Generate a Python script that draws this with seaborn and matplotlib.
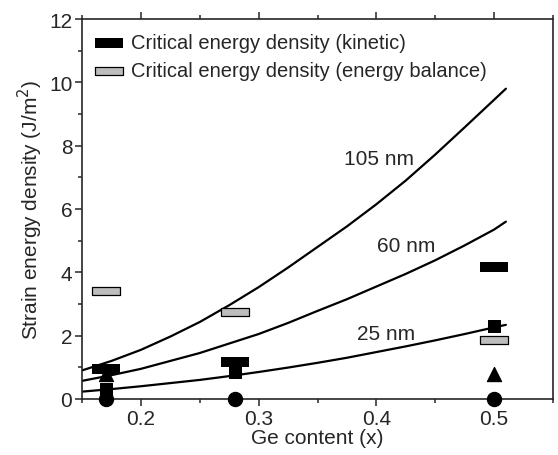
import numpy as np
import pandas as pd
import matplotlib
matplotlib.use("Agg")
import matplotlib.pyplot as plt
import seaborn as sns

# curves (strain energy density vs Ge content)
curve_x = [0.15, 0.175, 0.20, 0.225, 0.25, 0.275, 0.30, 0.325,
           0.35, 0.375, 0.40, 0.425, 0.45, 0.475, 0.50, 0.51]
curve_105 = [0.90, 1.20, 1.55, 1.97, 2.43, 2.96, 3.53, 4.15,
             4.80, 5.45, 6.15, 6.90, 7.72, 8.58, 9.45, 9.80]
curve_60 = [0.57, 0.75, 0.95, 1.20, 1.45, 1.75, 2.05, 2.40,
            2.78, 3.15, 3.55, 3.95, 4.38, 4.85, 5.35, 5.60]
curve_25 = [0.23, 0.31, 0.40, 0.50, 0.60, 0.72, 0.85, 0.99,
            1.14, 1.30, 1.48, 1.66, 1.85, 2.05, 2.26, 2.34]

# measured points
ge = [0.17, 0.28, 0.50]
kinetic = [0.95, 1.18, 4.17]
balance = [3.40, 2.75, 1.86]
squares = [0.30, 0.85, 2.30]
triangles = [0.79, None, 0.79]
circles = [0.0, 0.0, 0.0]

sns.set_style("ticks")
plt.rcParams["font.family"] = ["Liberation Sans", "DejaVu Sans"]
plt.rcParams["font.size"] = 15

fig = plt.figure(figsize=(5.58, 4.56), dpi=100)
ax = fig.add_axes([0.147, 0.123, 0.844, 0.833])

n = len(curve_x)
curves = pd.DataFrame({
    "x": curve_x * 3,
    "y": curve_105 + curve_60 + curve_25,
    "h": ["105 nm"] * n + ["60 nm"] * n + ["25 nm"] * n,
})
sns.lineplot(data=curves, x="x", y="y", units="h", estimator=None,
             color="black", lw=1.6, ax=ax, zorder=2)

bar_k = [(-1, -0.33), (1, -0.33), (1, 0.33), (-1, 0.33), (-1, -0.33)]
bar_b = [(-1, -0.27), (1, -0.27), (1, 0.27), (-1, 0.27), (-1, -0.27)]
pts = pd.DataFrame({"x": ge, "c": circles, "t": triangles, "s": squares,
                    "k": kinetic, "b": balance})
sns.scatterplot(data=pts, x="x", y="c", marker="o", s=105, color="black",
                edgecolor="black", ax=ax, clip_on=False, zorder=3)
sns.scatterplot(data=pts.dropna(), x="x", y="t", marker="^", s=105, color="black",
                edgecolor="black", ax=ax, clip_on=False, zorder=3)
sns.scatterplot(data=pts, x="x", y="s", marker="s", s=80, color="black",
                edgecolor="black", ax=ax, clip_on=False, zorder=4)
sns.scatterplot(data=pts, x="x", y="k", marker=bar_k, s=400, color="black",
                linewidth=0, ax=ax, clip_on=False, zorder=5,
                label="Critical energy density (kinetic)")
sns.scatterplot(data=pts, x="x", y="b", marker=bar_b, s=380, color="#bdbdbd",
                edgecolor="black", linewidth=0.9, ax=ax, clip_on=False, zorder=5,
                label="Critical energy density (energy balance)")

ax.text(0.402, 7.58, "105 nm", ha="center", va="center", fontsize=15)
ax.text(0.425, 4.84, "60 nm", ha="center", va="center", fontsize=15)
ax.text(0.408, 2.08, "25 nm", ha="center", va="center", fontsize=15)

ax.set_xlim(0.15, 0.55)
ax.set_ylim(0, 12)
ax.set_xticks([0.2, 0.3, 0.4, 0.5])
ax.set_xticks(np.arange(0.15, 0.551, 0.05), minor=True)
ax.set_yticks([0, 2, 4, 6, 8, 10, 12])
ax.set_yticks(np.arange(0, 12.1, 1), minor=True)
ax.tick_params(which="both", direction="out", top=True, width=1.1,
               labelsize=15, pad=2)
ax.tick_params(which="major", length=5)
ax.tick_params(which="minor", length=3)
for sp in ax.spines.values():
    sp.set_visible(True)
    sp.set_linewidth(1.2)

ax.set_xlabel("Ge content (x)", fontsize=15, labelpad=0)
ax.set_ylabel("Strain energy density (J/m$^2$)", fontsize=15, labelpad=3)

handles, labels = ax.get_legend_handles_labels()
ax.legend(handles, labels, loc="upper left", frameon=False, fontsize=14.5,
          handletextpad=0.1, borderaxespad=0.4, labelspacing=0.45,
          borderpad=0.3, bbox_to_anchor=(-0.015, 1.0))

fig.savefig("out.png", dpi=100)
